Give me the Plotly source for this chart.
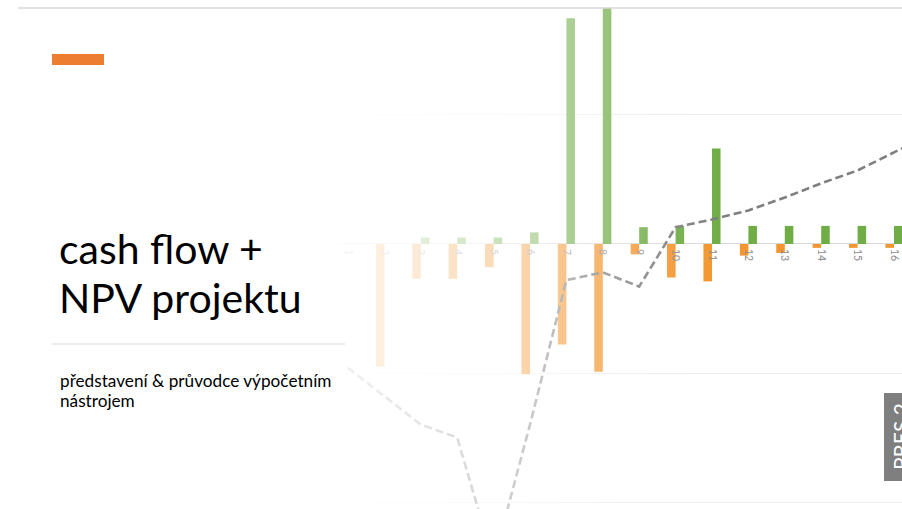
import numpy as np
import plotly.graph_objects as go

# ---------------- data ----------------
periods = list(range(1, 18))
tick_labels = [str(p) for p in periods]
outflows = [0, -95, -27, -27, -18, -101, -78, -99, -8, -26, -29, -9, -7, -3, -3, -3, -3]
inflows = [0, 0, 5, 5, 5, 9, 175, 183, 13, 14, 74, 14, 14, 14, 14, 14, 14]
cumulative = [-96, -118, -140, -150, -246, -140, -28, -22, -33, 13, 19, 26, 36, 47, 57, 71, 85]

title_lines = ["cash flow +", "NPV projektu"]
subtitle_lines = ["představení &amp; průvodce výpočetním", "nástrojem"]
badge_text = "PRES 2"

W, H = 902, 509
Y_RANGE = [-205.4, 189.1]
X_RANGE = [-8.56, 16.22]

GREEN = "#70AD47"
ORANGE = "#F4962F"
LINE_GRAY = "#7F7F7F"

fig = go.Figure()
fig.add_trace(go.Bar(x=periods, y=outflows, marker=dict(color=ORANGE, line=dict(width=0)),
                     name="výdaje", hoverinfo="skip"))
fig.add_trace(go.Bar(x=periods, y=inflows, marker=dict(color=GREEN, line=dict(width=0)),
                     name="příjmy", hoverinfo="skip"))
fig.add_trace(go.Scatter(x=periods, y=cumulative, mode="lines",
                         line=dict(color=LINE_GRAY, width=2.6, dash="8px,4px"),
                         name="kumulovaný CF", hoverinfo="skip"))

def px(x):
    return x / W

def py(y):
    return 1 - y / H

shapes = []
# white fade overlay from the left (integer-pixel strips, no overlap)
fade_pts_x = [0, 322, 345, 420, 530, 602, 675, 720]
fade_pts_a = [1, 1, 0.88, 0.80, 0.58, 0.30, 0.08, 0.0]
shapes.append(dict(type="rect", xref="paper", yref="paper", x0=0, x1=px(322), y0=0, y1=1,
                   fillcolor="white", line=dict(width=0), layer="above"))
step = 2
for x0 in range(322, 720, step):
    a = float(np.interp(x0 + step / 2, fade_pts_x, fade_pts_a))
    shapes.append(dict(type="rect", xref="paper", yref="paper", x0=px(x0), x1=px(x0 + step),
                       y0=0, y1=1, fillcolor=f"rgba(255,255,255,{a:.3f})",
                       line=dict(width=0), layer="above"))
# slide decorations
shapes.append(dict(type="line", xref="paper", yref="paper", x0=px(18), x1=1.0, y0=py(8), y1=py(8),
                   line=dict(color="#D9D9D9", width=1.5), layer="above"))
shapes.append(dict(type="rect", xref="paper", yref="paper", x0=px(52), x1=px(104), y0=py(65), y1=py(54),
                   fillcolor="#ED7D31", line=dict(width=0), layer="above"))
shapes.append(dict(type="line", xref="paper", yref="paper", x0=px(52), x1=px(345), y0=py(344), y1=py(344),
                   line=dict(color="#D9D9D9", width=1.2), layer="above"))
shapes.append(dict(type="rect", xref="paper", yref="paper", x0=px(884), x1=1.0, y0=py(481), y1=py(393),
                   fillcolor="#7F7F7F", line=dict(width=0), layer="above"))

FONT = "Lato, 'Open Sans', sans-serif"
annotations = [
    dict(text=title_lines[0], x=px(57), y=py(248), xref="paper", yref="paper", xanchor="left",
         yanchor="middle", showarrow=False, font=dict(family=FONT, size=41, color="#000000")),
    dict(text=title_lines[1], x=px(57), y=py(297), xref="paper", yref="paper", xanchor="left",
         yanchor="middle", showarrow=False, font=dict(family=FONT, size=41, color="#000000")),
    dict(text=subtitle_lines[0], x=px(58), y=py(380), xref="paper", yref="paper", xanchor="left",
         yanchor="middle", showarrow=False, font=dict(family=FONT, size=17.2, color="#000000")),
    dict(text=subtitle_lines[1], x=px(58), y=py(400), xref="paper", yref="paper", xanchor="left",
         yanchor="middle", showarrow=False, font=dict(family=FONT, size=17.2, color="#000000")),
    dict(text=badge_text, x=px(900), y=py(437), xref="paper", yref="paper", xanchor="center",
         yanchor="middle", textangle=-90, showarrow=False,
         font=dict(family=FONT, size=21, color="#FFFFFF")),
]

zero_pos = (0 - Y_RANGE[0]) / (Y_RANGE[1] - Y_RANGE[0])

fig.update_layout(
    width=W, height=H,
    margin=dict(l=0, r=0, t=0, b=0),
    paper_bgcolor="white", plot_bgcolor="white",
    barmode="group", bargap=0.53, bargroupgap=0,
    showlegend=False,
    shapes=shapes,
    annotations=annotations,
    xaxis=dict(range=X_RANGE, domain=[0, 1], anchor="free", position=zero_pos,
               tickmode="array", tickvals=periods, ticktext=tick_labels, tickangle=90,
               tickfont=dict(family=FONT, size=10.5, color="#8C8C8C"),
               showgrid=False, zeroline=False, showline=False, ticks="", ticklabelstandoff=4),
    yaxis=dict(range=Y_RANGE, domain=[0, 1], dtick=100, tick0=0, showticklabels=False,
               showgrid=True, gridcolor="#EDEDED", gridwidth=1,
               zeroline=True, zerolinecolor="#D9D9D9", zerolinewidth=1.2, ticks=""),
)

fig.write_html("out.html", config={"displayModeBar": False},
               post_script="document.body.style.margin='0';document.body.style.overflow='hidden';")
